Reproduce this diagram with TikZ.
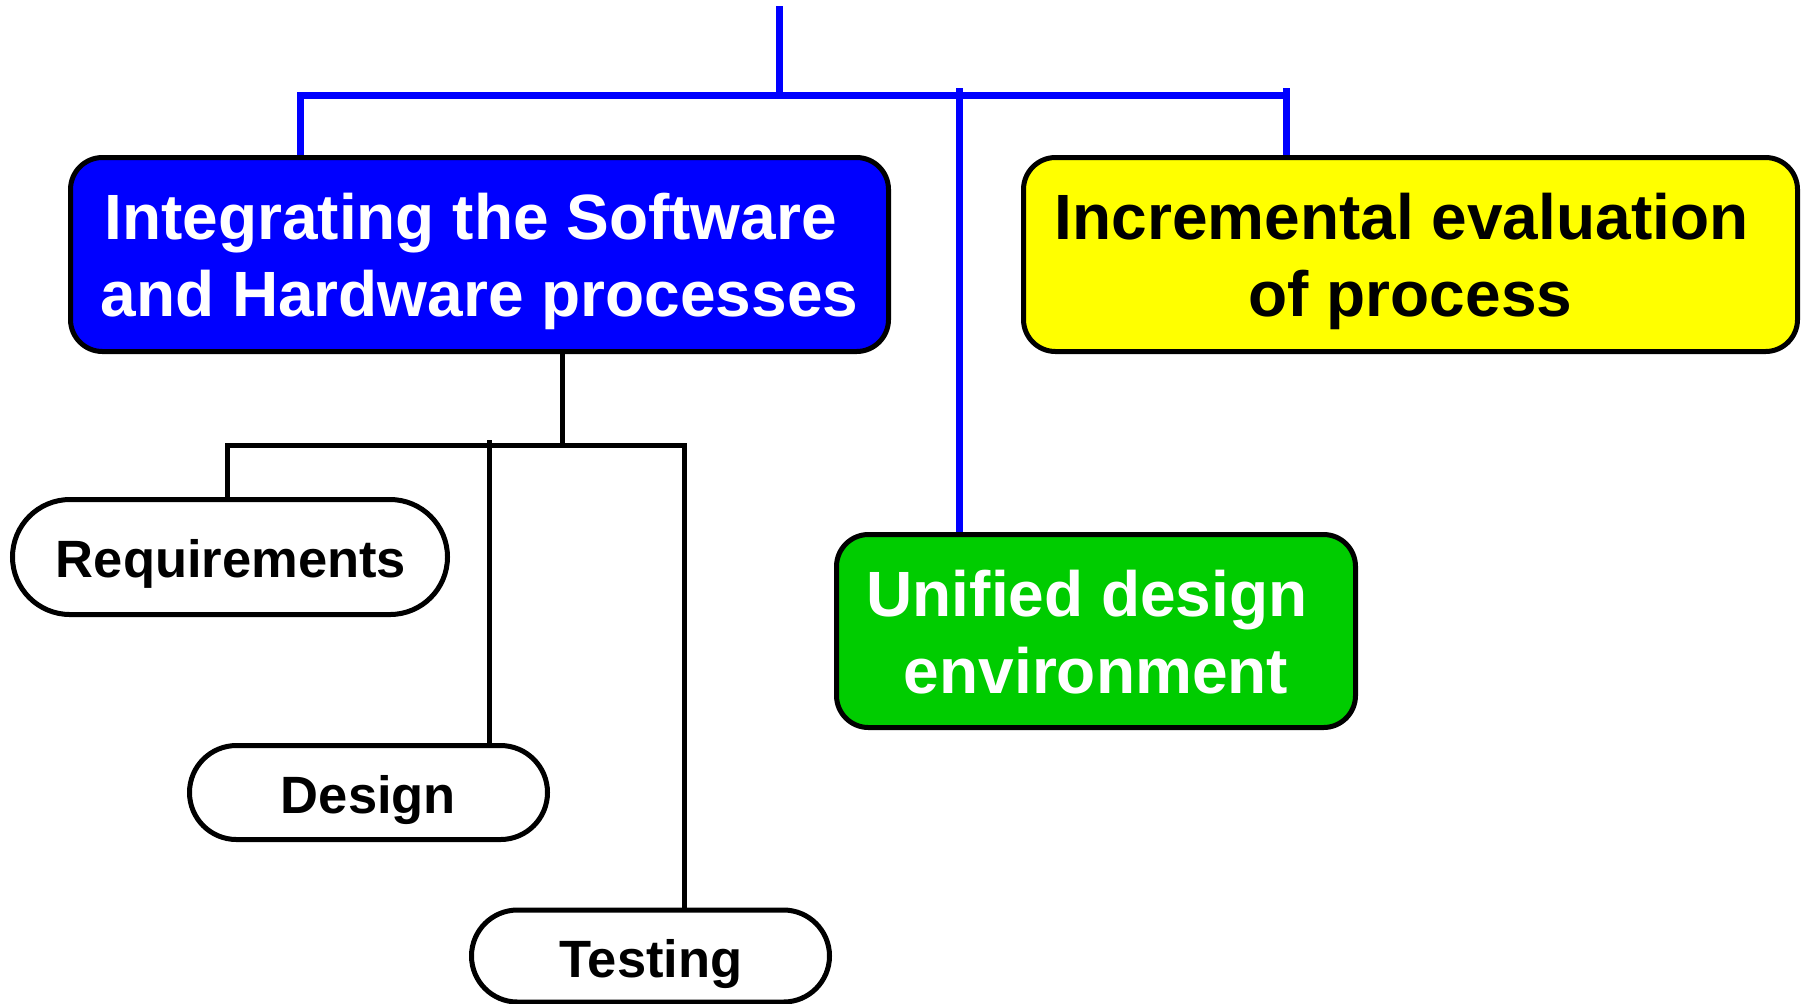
\documentclass[tikz,border=0pt]{standalone}
\usepackage{fontspec}
\setmainfont{Liberation Sans}
\definecolor{procblue}{RGB}{0,0,255}
\definecolor{procgreen}{RGB}{0,204,0}
\definecolor{procyellow}{RGB}{255,255,0}
\begin{document}
\begin{tikzpicture}[x=0.5pt,y=-0.5pt,
  box/.style={draw=black,line width=2.5pt,rounded corners=16pt,inner sep=0pt},
  pill/.style={draw=black,fill=white,line width=2.5pt,inner sep=0pt},
  boxtext/.style={font=\fontsize{32}{38.5}\selectfont\bfseries,align=center,inner sep=0pt},
  pilltext/.style={font=\fontsize{26.25}{31.5}\selectfont\bfseries,inner sep=0pt,anchor=base},
  blueline/.style={draw=procblue,line width=3.5pt},
  blackline/.style={draw=black,line width=2.5pt}]
\useasboundingbox (0,0) rectangle (1802,1003);

% main process boxes
\node[box,fill=procblue,minimum width=409pt,minimum height=97pt] (integ) at (479.5,254.5) {};
\node[boxtext,text=white] (integtxt) at (479.5,261.9) {Integrating the Software\hspace*{8.9pt}\\and Hardware processes};

\node[box,fill=procyellow,minimum width=387pt,minimum height=97pt] (incr) at (1410.5,254.5) {};
\node[boxtext,text=black] (incrtxt) at (1410.5,261.9) {Incremental evaluation\hspace*{8.9pt}\\of process};

\node[box,fill=procgreen,minimum width=259.5pt,minimum height=96.5pt] (unif) at (1096,631) {};
\node[boxtext,text=white] (uniftxt) at (1096,632) {Unified design\hspace*{8.9pt}\\environment};

% activity pills
\node[pill,minimum width=217.5pt,minimum height=57.5pt,rounded corners=28.75pt] (reqs) at (230,557) {};
\node[pilltext] (reqstxt) at (231,577) {Requirements};

\node[pill,minimum width=179pt,minimum height=47pt,rounded corners=23.5pt] (design) at (368.5,792.5) {};
\node[pilltext] (designtxt) at (368.5,813) {Design};

\node[pill,minimum width=179pt,minimum height=46pt,rounded corners=23pt] (test) at (650.5,956) {};
\node[pilltext] (testtxt) at (651,977) {Testing};

% blue tree
\coordinate (root) at (779,6);
\coordinate (jn) at (779,95.5);
\coordinate (bl) at (300,95.5);
\coordinate (br) at (1286,95.5);
\coordinate (brt) at (1286,88);
\coordinate (mt) at (959,88);
\draw[blueline] (root) -- (jn);
\draw[blueline] (bl |- integ.north) -- (bl) -- (br);
\draw[blueline] (brt) -- (brt |- incr.north);
\draw[blueline] (mt) -- (mt |- unif.north);

% black tree
\coordinate (bj) at (562.5,445.5);
\coordinate (kl) at (227,445.5);
\coordinate (kr) at (684.5,445.5);
\coordinate (kd) at (489,440);
\draw[blackline] (integ.south -| bj) -- (bj);
\draw[blackline] (reqs.north -| kl) -- (kl) -- (kr) -- (kr |- test.north);
\draw[blackline] (kd) -- (kd |- design.north);
\end{tikzpicture}
\end{document}
